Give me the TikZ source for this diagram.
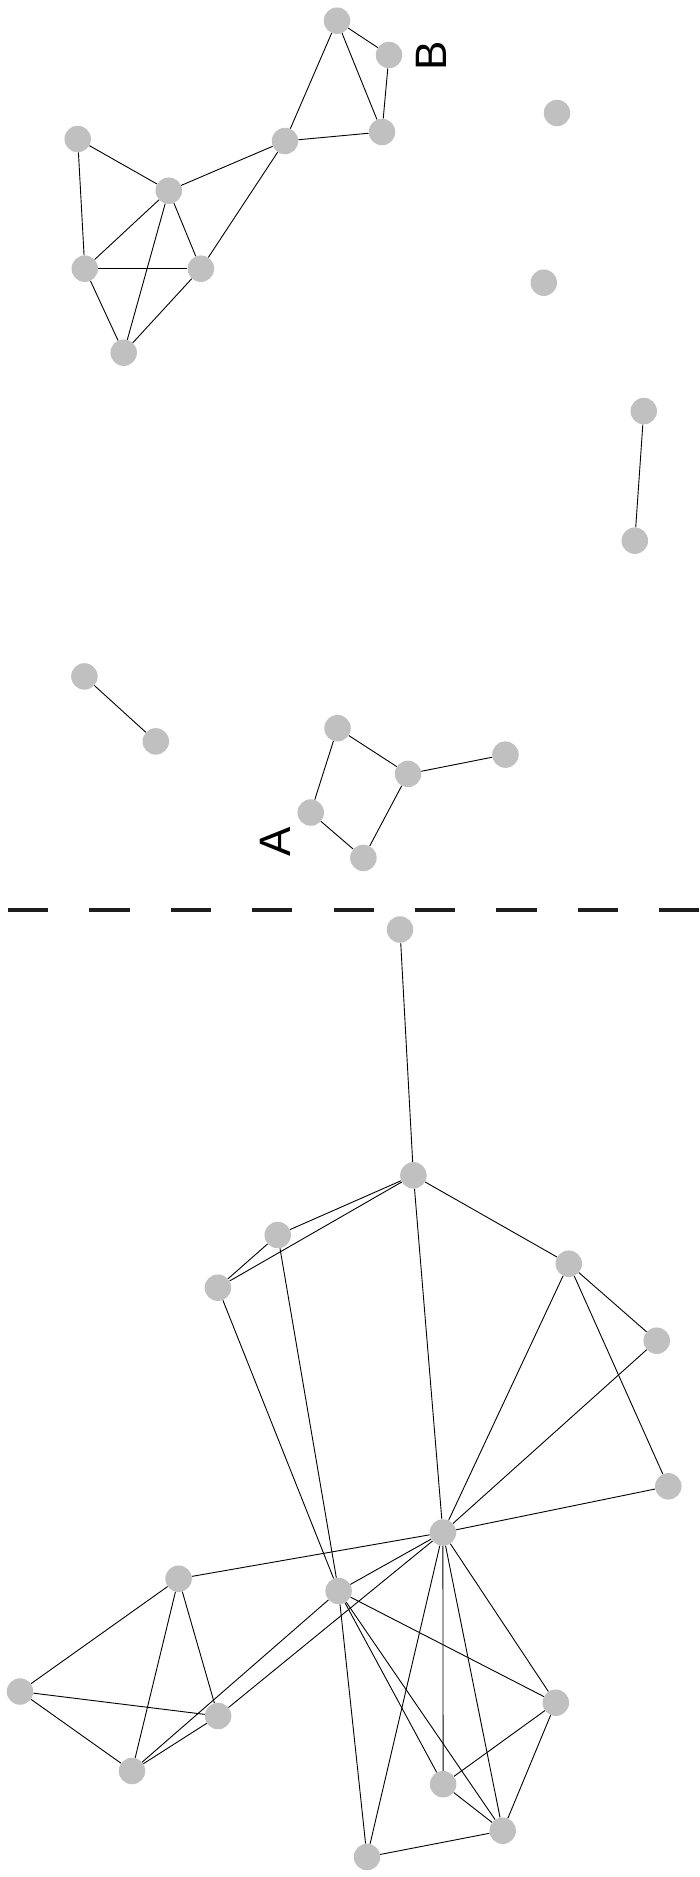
\documentclass[tikz,border=0pt]{standalone}
\usepackage{fontspec}
\newfontfamily\labfont{Liberation Sans}
\usetikzlibrary{backgrounds}
\definecolor{nodegray}{HTML}{C0C0C0}
\definecolor{dashcol}{HTML}{1E1E1E}
\tikzset{
  vtx/.style={circle, fill=nodegray, draw=none, minimum size=26.5pt, inner sep=0pt},
  edge/.style={draw=black, line width=0.9pt},
  sep/.style={draw=dashcol, line width=3.5pt, dash pattern=on 40.2pt off 41.2pt},
  lab/.style={font=\labfont\fontsize{44}{44}\selectfont, rotate=90, inner sep=0pt}
}
\begin{document}
\begin{tikzpicture}[x=1pt, y=-1pt]
\useasboundingbox (0,0) rectangle (700,1877);
% top cluster
\node[vtx] (bT) at (337,20.7) {};
\node[vtx] (bR) at (389,55) {};
\node[vtx] (bL) at (382,132) {};
\node[vtx] (hub) at (285,141) {};
\node[vtx] (lt) at (77.7,139) {};
\node[vtx] (ce) at (168.8,190.7) {};
\node[vtx] (lm) at (84.8,268.7) {};
\node[vtx] (rm) at (200.9,268.7) {};
\node[vtx] (bo) at (123.7,352.7) {};
\node[vtx] (i1) at (557,113) {};
\node[vtx] (i2) at (543.75,282.7) {};
\node[vtx] (p1) at (643.75,411.1) {};
\node[vtx] (p2) at (634.8,540.7) {};
\node[vtx] (q1) at (84.4,676.4) {};
\node[vtx] (q2) at (155.8,741.4) {};
\node[vtx] (a1) at (337.5,728.2) {};
\node[vtx] (a2) at (408,773.9) {};
\node[vtx] (a3) at (505.4,754.6) {};
\node[vtx] (a4) at (310.7,812.5) {};
\node[vtx] (a5) at (363.4,857.9) {};
\node[lab] (labB) at (431.5,56) {B};
\node[lab] (labA) at (275,842) {A};
% separator
\coordinate (s1) at (8,910);
\coordinate (s2) at (700,910);
\draw[sep] (s1) -- (s2);
% bottom graph
\node[vtx] (t0) at (400,929.5) {};
\node[vtx] (h1) at (413.4,1175.3) {};
\node[vtx] (na) at (277.7,1235) {};
\node[vtx] (nb) at (217.9,1287.7) {};
\node[vtx] (nc) at (568.75,1263.7) {};
\node[vtx] (nd) at (656.7,1340.7) {};
\node[vtx] (ne) at (668.3,1486.3) {};
\node[vtx] (H) at (442.9,1532.5) {};
\node[vtx] (L1) at (178.6,1578.7) {};
\node[vtx] (M) at (338.6,1591) {};
\node[vtx] (L2) at (20,1691.5) {};
\node[vtx] (L3) at (218.1,1716) {};
\node[vtx] (L4) at (132,1771) {};
\node[vtx] (R1) at (555.8,1702.7) {};
\node[vtx] (R2) at (443.1,1784.2) {};
\node[vtx] (R3) at (502.7,1830.7) {};
\node[vtx] (R4) at (367,1857) {};
\begin{scope}[on background layer]
% top cluster edges
\draw[edge] (bT) -- (bR);
\draw[edge] (bT) -- (bL);
\draw[edge] (bT) -- (hub);
\draw[edge] (bR) -- (bL);
\draw[edge] (bL) -- (hub);
\draw[edge] (hub) -- (ce);
\draw[edge] (hub) -- (rm);
\draw[edge] (lt) -- (ce);
\draw[edge] (lt) -- (lm);
\draw[edge] (ce) -- (lm);
\draw[edge] (ce) -- (rm);
\draw[edge] (ce) -- (bo);
\draw[edge] (lm) -- (rm);
\draw[edge] (lm) -- (bo);
\draw[edge] (rm) -- (bo);
\draw[edge] (p1) -- (p2);
\draw[edge] (q1) -- (q2);
\draw[edge] (a1) -- (a4);
\draw[edge] (a1) -- (a2);
\draw[edge] (a2) -- (a3);
\draw[edge] (a2) -- (a5);
\draw[edge] (a4) -- (a5);
% bottom edges
\draw[edge] (t0) -- (h1);
\draw[edge] (h1) -- (na);
\draw[edge] (h1) -- (nb);
\draw[edge] (h1) -- (nc);
\draw[edge] (h1) -- (H);
\draw[edge] (na) -- (nb);
\draw[edge] (na) -- (M);
\draw[edge] (nb) -- (M);
\draw[edge] (nc) -- (nd);
\draw[edge] (nc) -- (ne);
\draw[edge] (nc) -- (H);
\draw[edge] (nd) -- (H);
\draw[edge] (ne) -- (H);
\draw[edge] (H) -- (L1);
\draw[edge] (H) -- (M);
\draw[edge] (H) -- (L3);
\draw[edge] (H) -- (R1);
\draw[edge] (H) -- (R2);
\draw[edge] (H) -- (R3);
\draw[edge] (H) -- (R4);
\draw[edge] (M) -- (L4);
\draw[edge] (M) -- (R1);
\draw[edge] (M) -- (R2);
\draw[edge] (M) -- (R3);
\draw[edge] (M) -- (R4);
\draw[edge] (L1) -- (L2);
\draw[edge] (L1) -- (L3);
\draw[edge] (L1) -- (L4);
\draw[edge] (L2) -- (L3);
\draw[edge] (L2) -- (L4);
\draw[edge] (L3) -- (L4);
\draw[edge] (R1) -- (R2);
\draw[edge] (R1) -- (R3);
\draw[edge] (R2) -- (R3);
\draw[edge] (R3) -- (R4);
\end{scope}
\end{tikzpicture}
\end{document}
